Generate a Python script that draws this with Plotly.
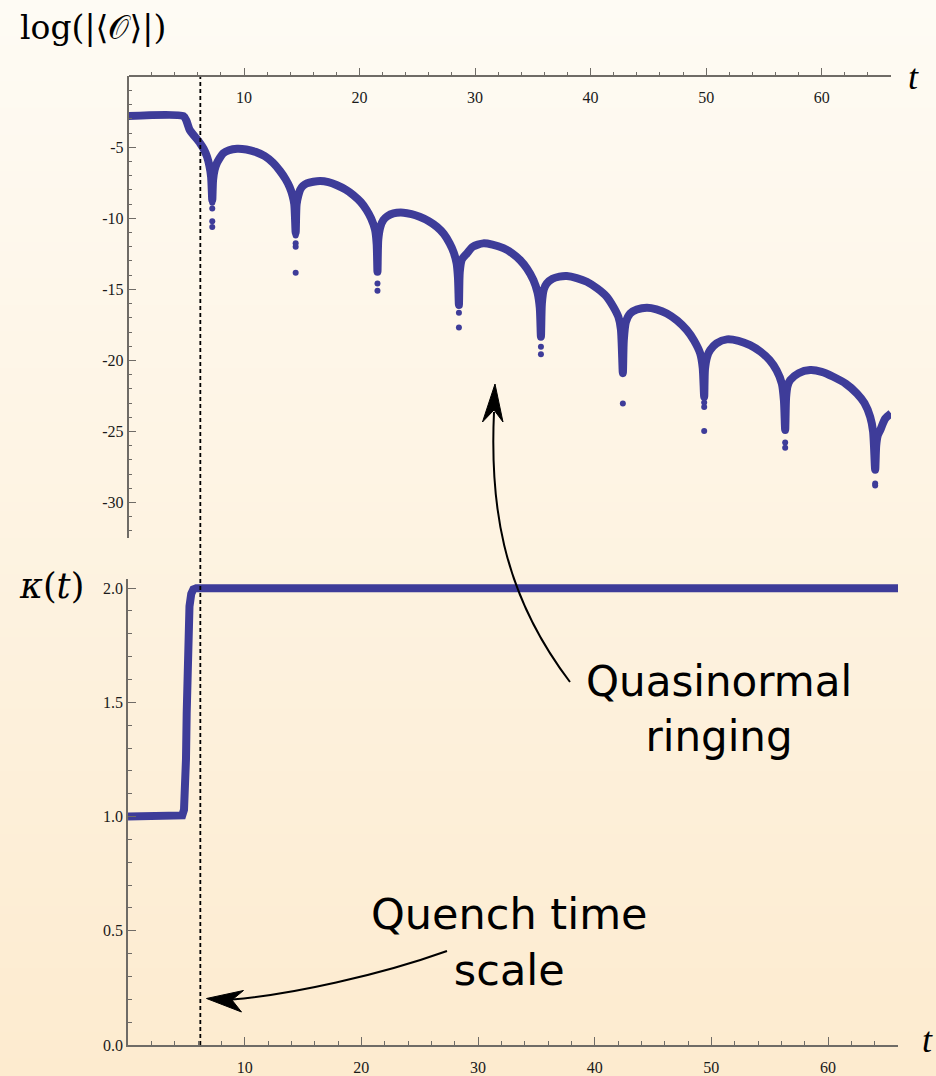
import plotly.graph_objects as go

W, H = 936, 1076

# ---------------- data ----------------
# top panel: log(|<O>|) versus t (continuous part)
t_obs = [0.0, 4.75, 5.0, 5.3, 5.7, 6.2, 6.5, 6.8, 7.0, 7.15, 7.25,
         7.32, 7.45, 7.64, 7.9, 8.2, 8.7, 9.4, 10.2, 11.0, 11.8, 12.5, 13.1, 13.6, 13.95, 14.2, 14.35, 14.47,
         14.55, 14.7, 14.85, 15.1, 15.43, 16.0, 16.6, 17.3, 18.0, 18.8, 19.46, 20.1, 20.6, 21.0, 21.34, 21.48, 21.55,
         21.62, 21.8, 22.06, 22.4, 22.93, 23.8, 24.5, 25.2, 26.0, 26.7, 27.3, 27.8, 28.15, 28.4, 28.52, 28.6,
         28.67, 28.85, 29.3, 29.8, 30.7, 31.5, 32.45, 33.2, 33.9, 34.5, 35.05, 35.4, 35.6, 35.7,
         35.78, 35.95, 36.2, 36.7, 37.3, 37.94, 38.8, 39.67, 40.6, 41.4, 41.95, 42.4, 42.62, 42.79,
         42.87, 43.05, 43.42, 44.0, 44.87, 45.7, 46.6, 47.5, 48.33, 48.95, 49.48, 49.7, 49.83,
         49.9, 50.1, 50.35, 50.9, 51.8, 52.8, 53.8, 54.7, 55.5, 56.1, 56.55, 56.73, 56.84,
         56.92, 57.05, 57.27, 58.0, 59.0, 60.0, 61.0, 62.1, 63.05, 63.7, 64.2, 64.45, 64.63,
         64.72, 64.85, 65.07, 65.5, 66.0]
log_obs = [-2.8, -2.8, -3.1, -3.78, -4.2, -4.72, -5.1, -5.66, -6.3, -7.07, -8.7,
           -7.3, -6.6, -6.13, -5.75, -5.42, -5.2, -5.1, -5.15, -5.32, -5.62, -6.08, -6.65, -7.25, -7.8, -8.4, -9.0, -11.0,
           -9.0, -8.4, -8.0, -7.72, -7.54, -7.42, -7.37, -7.45, -7.65, -7.98, -8.36, -8.85, -9.4, -10.0, -10.8, -11.8, -13.76,
           -11.5, -10.6, -10.12, -9.85, -9.65, -9.6, -9.7, -9.89, -10.2, -10.6, -11.1, -11.76, -12.4, -13.17, -14.2, -16.1,
           -13.8, -12.9, -12.46, -12.0, -11.76, -11.85, -12.1, -12.45, -12.94, -13.55, -14.35, -15.2, -16.3, -18.34,
           -16.0, -15.0, -14.58, -14.25, -14.1, -14.06, -14.2, -14.46, -14.95, -15.52, -16.2, -16.93, -17.8, -20.9,
           -18.6, -17.3, -16.69, -16.42, -16.29, -16.4, -16.69, -17.2, -17.87, -18.6, -19.5, -20.5, -22.56,
           -20.6, -19.7, -19.27, -18.8, -18.52, -18.62, -18.92, -19.38, -19.98, -20.7, -21.62, -22.8, -24.9,
           -22.6, -21.8, -21.39, -20.9, -20.68, -20.8, -21.15, -21.65, -22.32, -23.0, -23.97, -25.0, -27.7,
           -26.0, -25.3, -24.9, -24.1, -23.72]

# isolated sample points below each dip
t_dip = [7.25, 7.25, 7.25, 7.25,
         14.47, 14.47, 14.47, 14.47,
         21.55, 21.55, 21.55,
         28.6, 28.6, 28.6,
         35.7, 35.7, 35.7,
         42.79, 42.79,
         49.83, 49.83, 49.83, 49.83,
         56.84, 56.84, 56.84,
         64.63, 64.63, 64.63]
log_dip = [-8.9, -9.3, -10.2, -10.6,
           -11.2, -11.76, -12.0, -13.83,
           -13.76, -14.58, -15.1,
           -16.1, -16.65, -17.68,
           -18.34, -19.04, -19.56,
           -20.9, -23.03,
           -22.56, -22.96, -23.27, -24.96,
           -24.9, -25.77, -26.15,
           -27.6, -28.66, -28.8]

# bottom panel: kappa(t)
t_kappa = [0.0, 4.5, 4.65, 4.8, 4.9, 4.97, 5.03, 5.1, 5.17, 5.27, 5.42, 5.6, 5.85, 66.0]
kappa = [1.0, 1.0, 1.005, 1.03, 1.1, 1.25, 1.45, 1.65, 1.8, 1.92, 1.975, 1.995, 2.0, 2.0]

t_quench = 6.2

x_tickvals = [10, 20, 30, 40, 50, 60]
x_ticktext = ["10", "20", "30", "40", "50", "60"]
ytop_tickvals = [-5, -10, -15, -20, -25, -30]
ytop_ticktext = ["-5", "-10", "-15", "-20", "-25", "-30"]
ybot_tickvals = [0.0, 0.5, 1.0, 1.5, 2.0]
ybot_ticktext = ["0.0", "0.5", "1.0", "1.5", "2.0"]

# ---------------- styling ----------------
BLUE = "#3e3c99"
AX = "#6f6b66"


def fx(p):
    return p / W


def fy(p):
    return 1 - p / H


fig = go.Figure()
fig.add_trace(go.Scatter(x=t_obs, y=log_obs, mode="lines",
                         line=dict(color=BLUE, width=8, shape="spline", smoothing=0.7),
                         xaxis="x", yaxis="y", hoverinfo="skip"))
fig.add_trace(go.Scatter(x=t_dip, y=log_dip, mode="markers",
                         marker=dict(color=BLUE, size=6, line=dict(width=0)),
                         xaxis="x", yaxis="y", hoverinfo="skip"))
fig.add_trace(go.Scatter(x=t_kappa, y=kappa, mode="lines",
                         line=dict(color=BLUE, width=8, shape="linear"),
                         xaxis="x2", yaxis="y2", hoverinfo="skip"))

tickfont = dict(family="Liberation Serif", size=16, color="#1a1a1a")
common = dict(showline=True, linecolor=AX, linewidth=1.5, ticks="inside",
              ticklen=8, tickwidth=1.2, tickcolor=AX, showgrid=False,
              zeroline=False, tickfont=tickfont, automargin=False,
              fixedrange=True, tickmode="array")

fig.update_layout(
    width=W, height=H, autosize=False,
    margin=dict(l=0, r=0, t=0, b=0),
    showlegend=False,
    paper_bgcolor="rgb(254,251,244)",
    plot_bgcolor="rgba(0,0,0,0)",
    xaxis=dict(common, domain=[fx(128.5), fx(891)], range=[0, 66],
               anchor="free", position=fy(76.3), side="bottom",
               tickvals=x_tickvals, ticktext=x_ticktext, ticklabelstandoff=7,
               minor=dict(tickmode="linear", tick0=0, dtick=2, ticks="inside",
                          ticklen=4, tickwidth=1, tickcolor=AX)),
    yaxis=dict(common, domain=[fy(538), fy(76.3)], range=[-32.5, 0],
               anchor="x", tickvals=ytop_tickvals, ticktext=ytop_ticktext,
               minor=dict(tickmode="linear", tick0=0, dtick=1, ticks="inside",
                          ticklen=4, tickwidth=1, tickcolor=AX)),
    xaxis2=dict(common, domain=[fx(128), fx(898)], range=[0, 66],
                anchor="y2", side="bottom", ticklabelstandoff=7,
                tickvals=x_tickvals, ticktext=x_ticktext,
                minor=dict(tickmode="linear", tick0=0, dtick=2, ticks="inside",
                           ticklen=4, tickwidth=1, tickcolor=AX)),
    yaxis2=dict(common, domain=[fy(1045), fy(579)], range=[0, 2.04],
                anchor="x2", tickvals=ybot_tickvals, ticktext=ybot_ticktext,
                minor=dict(tickmode="linear", tick0=0, dtick=0.1, ticks="inside",
                           ticklen=4, tickwidth=1, tickcolor=AX)),
)

shapes = []
# vertical background gradient (stripes)
N = 120
c0 = (254, 251, 244)
c1 = (253, 235, 207)
for i in range(N):
    f = i / (N - 1)
    col = tuple(round(c0[k] + (c1[k] - c0[k]) * f) for k in range(3))
    shapes.append(dict(type="rect", xref="paper", yref="paper",
                       x0=0, x1=1, y0=1 - (i + 1) / N - 0.002, y1=1 - i / N,
                       fillcolor="rgb(%d,%d,%d)" % col, line=dict(width=0),
                       layer="below"))

# dashed quench-time line spanning both panels
shapes.append(dict(type="line", xref="x2", yref="paper", x0=t_quench, x1=t_quench,
                   y0=fy(1045), y1=fy(77),
                   line=dict(color="black", width=1.8, dash="4px,3px")))


def P(xp, yp):
    return "%.5f %.5f" % (fx(xp), fy(yp))


# curved arrow to the ringing
shapes.append(dict(type="path", xref="paper", yref="paper",
                   path="M %s C %s %s %s" % (P(570, 682), P(500, 590), P(490, 500), P(494, 412)),
                   line=dict(color="black", width=2)))
shapes.append(dict(type="path", xref="paper", yref="paper",
                   path="M %s L %s L %s L %s Z" % (P(495, 384), P(482.5, 422), P(494, 410), P(503, 422)),
                   fillcolor="black", line=dict(color="black", width=1)))
# curved arrow to the quench line
shapes.append(dict(type="path", xref="paper", yref="paper",
                   path="M %s C %s %s %s" % (P(447, 951), P(380, 975), P(290, 995), P(232, 999.5)),
                   line=dict(color="black", width=2)))
shapes.append(dict(type="path", xref="paper", yref="paper",
                   path="M %s L %s L %s L %s Z" % (P(206.5, 998.5), P(243.5, 990.5), P(232, 1000), P(241.5, 1012)),
                   fillcolor="black", line=dict(color="black", width=1)))

fig.update_layout(shapes=shapes)

ann = []
serif = "DejaVu Serif"
ann.append(dict(xref="paper", yref="paper", x=fx(18), y=fy(28), xanchor="left",
                yanchor="middle", showarrow=False, text="log(|⟨𝒪⟩|)",
                font=dict(family=serif, size=33, color="black")))
ann.append(dict(xref="paper", yref="paper", x=fx(17), y=fy(586), xanchor="left",
                yanchor="middle", showarrow=False, text="<i>κ</i>(<i>t</i>)",
                font=dict(family=serif, size=35, color="black")))
ann.append(dict(xref="paper", yref="paper", x=fx(913), y=fy(77), xanchor="center",
                yanchor="middle", showarrow=False, text="<i>t</i>",
                font=dict(family="Liberation Serif", size=36, color="black")))
ann.append(dict(xref="paper", yref="paper", x=fx(927), y=fy(1040), xanchor="center",
                yanchor="middle", showarrow=False, text="<i>t</i>",
                font=dict(family="Liberation Serif", size=36, color="black")))
ann.append(dict(xref="paper", yref="paper", x=fx(719), y=fy(709), xanchor="center",
                yanchor="middle", showarrow=False, text="Quasinormal<br>ringing",
                font=dict(family="DejaVu Sans", size=42, color="black")))
ann.append(dict(xref="paper", yref="paper", x=fx(510), y=fy(942), xanchor="center",
                yanchor="middle", showarrow=False, text="Quench time<br>scale",
                font=dict(family="DejaVu Sans", size=43, color="black")))
fig.update_layout(annotations=ann)

fig.write_html("out.html")
